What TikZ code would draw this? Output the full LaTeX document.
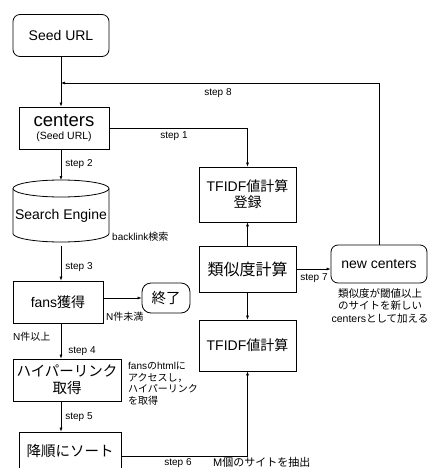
\documentclass[tikz,border=0pt]{standalone}
\usepackage{fontspec}
\setmainfont{Liberation Sans}
\newfontfamily\jp{Noto Sans CJK JP}
\usetikzlibrary{arrows.meta}

\begin{document}
\begin{tikzpicture}[x=1pt,y=1pt,
  box/.style={draw,rectangle,line width=0.8pt,align=center,font=\fontsize{14}{16}\selectfont},
  jpbox/.style={box,font=\fontsize{14.5}{17}\selectfont\jp},
  roundbox/.style={box,rounded corners=7pt},
  flow/.style={line width=0.6pt,-{Latex[length=4pt,width=3pt]}},
  steplabel/.style={font=\fontsize{10}{12}\selectfont,inner sep=0pt},
  note/.style={font=\fontsize{10}{11.5}\selectfont,inner sep=0pt,align=left}]
    \useasboundingbox (0,0) rectangle (435,-468);

    % left column
    \node (seed_url) [roundbox,minimum width=96pt,minimum height=42pt] at (61,-35.5) {Seed URL};
    \node (centers) [box,minimum width=90pt,minimum height=42pt] at (64,-128)
      {{\fontsize{18.5}{18}\selectfont centers}\\[-3pt]{\fontsize{10.5}{12}\selectfont (Seed URL)}};
    \node (search_engine) [inner sep=0pt,outer sep=0pt,minimum width=96pt,minimum height=62pt,
      font=\fontsize{14}{16}\selectfont] at (61,-211)
      {\smash{\raisebox{-5pt}{Search Engine}}\vphantom{Search Engine}};
    \node (fans) [box,minimum width=90pt,minimum height=42pt] at (58,-302) {fans{\jp 獲得}};
    \node (finish) [jpbox,rounded corners=9pt,minimum width=48pt,minimum height=30pt] at (166,-298) {終了};
    \node (hyperlink) [jpbox,minimum width=108pt,minimum height=42pt] at (67,-380) {ハイパーリンク\\取得};
    \node (sort_desc) [jpbox,minimum width=102pt,minimum height=38pt] at (70,-451) {降順にソート};

    % drum outline of the search engine
    \draw [line width=0.8pt] ([yshift=-8.5pt]search_engine.north west)
      -- ([yshift=8.5pt]search_engine.south west)
      arc [start angle=180,end angle=360,x radius=48pt,y radius=8.5pt]
      -- ([yshift=-8.5pt]search_engine.north east);
    \draw [line width=0.8pt] ([yshift=-8.5pt]search_engine.north) ellipse [x radius=48pt,y radius=8.5pt];

    % right column
    \node (tfidf_register) [box,minimum width=97pt,minimum height=55pt] at (247.5,-194.5)
      {TFIDF{\jp 値計算}\\{\jp 登録}};
    \node (similarity) [jpbox,font=\fontsize{16}{18}\selectfont\jp,minimum width=97pt,minimum height=46pt]
      at (247.5,-269) {類似度計算};
    \node (tfidf) [box,minimum width=97pt,minimum height=51pt] at (247.5,-345.5) {TFIDF{\jp 値計算}};
    \node (new_centers) [roundbox,minimum width=96pt,minimum height=38pt] at (379,-264) {new centers};

    \coordinate (loop_back) at (61,-83);
    \coordinate (extract_turn) at (247.5,-456);

    % connectors
    \draw [flow] (seed_url.south) -- (seed_url.south |- centers.north);
    \draw [flow] (new_centers.north) |- (loop_back);
    \draw [flow] (centers.east) -| (tfidf_register.north);
    \draw [flow] (seed_url.south |- centers.south) -- (search_engine.north);
    \draw [flow] ([yshift=-4pt]search_engine.south) -- (search_engine.south |- fans.north);
    \draw [flow] (fans.east |- finish.west) -- (finish.west);
    \draw [flow] (search_engine.south |- fans.south) -- (search_engine.south |- hyperlink.north);
    \draw [flow] (search_engine.south |- hyperlink.south) -- (search_engine.south |- sort_desc.north);
    \draw [flow] (sort_desc.east |- extract_turn) -| (tfidf.south);
    \draw [flow] (similarity.north) -- (tfidf_register.south);
    \draw [flow] (similarity.south) -- (tfidf.north);
    \draw [flow] (similarity.east) -- (similarity.east -| new_centers.west);

    % step labels
    \node [steplabel] at (218,-93) {step 8};
    \node [steplabel] at (174,-136) {step 1};
    \node [steplabel] at (79,-164) {step 2};
    \node [steplabel] at (79,-267) {step 3};
    \node [steplabel] at (82,-351) {step 4};
    \node [steplabel] at (79,-417) {step 5};
    \node [steplabel] at (178,-463) {step 6};
    \node [steplabel] at (314,-278) {step 7};

    % notes
    \node [note,anchor=west] at (112,-237) {backlink{\jp 検索}};
    \node [note,anchor=west] at (106,-317) {N{\jp 件未満}};
    \node [note,anchor=west] at (13,-337) {N{\jp 件以上}};
    \node [note,anchor=north west] at (128,-362)
      {fans{\jp の}html{\jp に}\\{\jp アクセスし，}\\{\jp ハイパーリンク}\\{\jp を取得}};
    \node [note,font=\fontsize{11}{12}\selectfont,anchor=west] at (213,-462) {M{\jp 個のサイトを抽出}};
    \node [note,font=\fontsize{10.5}{12.5}\selectfont,align=center,anchor=north] at (380,-288)
      {{\jp 類似度が閾値以上}\\{\jp のサイトを新しい}\\centers{\jp として加える}};
\end{tikzpicture}
\end{document}
